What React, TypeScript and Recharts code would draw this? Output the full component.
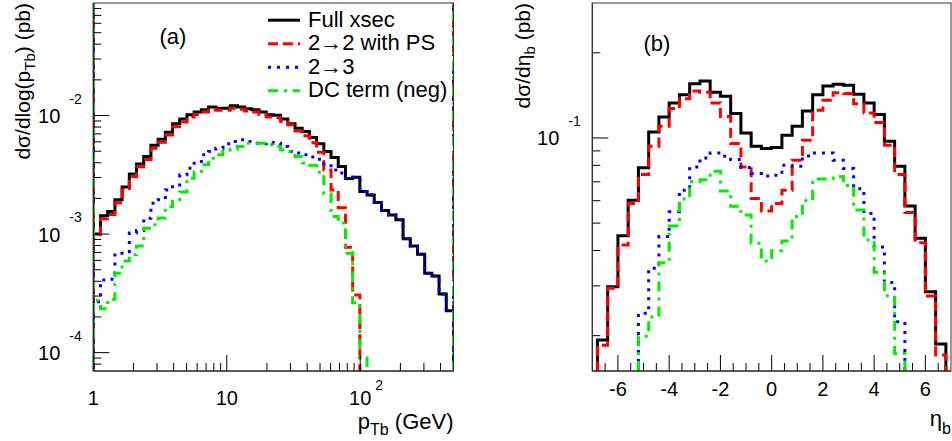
import { LineChart, Line, XAxis, YAxis } from 'recharts'

// ---- panel (a): d sigma / d log(pT), 50 log bins from 1 to 500 GeV ----
const PT_EDGES = [
  1, 1.132, 1.282, 1.452, 1.644, 1.862, 2.108, 2.387, 2.703, 3.061,
  3.466, 3.924, 4.444, 5.032, 5.698, 6.452, 7.306, 8.273, 9.368, 10.61,
  12.01, 13.6, 15.4, 17.44, 19.75, 22.36, 25.32, 28.67, 32.47, 36.76,
  41.63, 47.14, 53.38, 60.45, 68.45, 77.5, 87.76, 99.38, 112.5, 127.4,
  144.3, 163.4, 185, 209.5, 237.2, 268.6, 304.1, 344.4, 389.9, 441.5, 500,
]
const FULL_PT = [
  1.0e-3, 1.43e-3, 1.55e-3, 1.95e-3, 2.49e-3, 3.22e-3, 3.91e-3, 4.51e-3, 5.62e-3, 6.31e-3,
  7.24e-3, 8.51e-3, 9.33e-3, 1.014e-2, 1.069e-2, 1.117e-2, 1.178e-2, 1.153e-2, 1.153e-2, 1.208e-2,
  1.178e-2, 1.14e-2, 1.117e-2, 1.069e-2, 1.014e-2, 1.007e-2, 9.33e-3, 8.51e-3, 7.83e-3, 7.33e-3,
  6.52e-3, 5.77e-3, 4.97e-3, 4.43e-3, 3.72e-3, 2.95e-3, 3.02e-3, 2.29e-3, 2.14e-3, 1.85e-3,
  1.58e-3, 1.45e-3, 1.32e-3, 9.12e-4, 7.94e-4, 6.76e-4, 4.68e-4, 4.44e-4, 3.13e-4, 2.26e-4,
]
const PS22_PT = [
  9.9e-4, 1.35e-3, 1.46e-3, 1.84e-3, 2.35e-3, 3.04e-3, 3.69e-3, 4.26e-3, 5.31e-3, 5.96e-3,
  6.84e-3, 8.04e-3, 8.81e-3, 9.7e-3, 1.02e-2, 1.07e-2, 1.13e-2, 1.11e-2, 1.11e-2, 1.15e-2,
  1.13e-2, 1.09e-2, 1.07e-2, 1.02e-2, 9.7e-3, 9.6e-3, 8.9e-3, 8.36e-3, 7.41e-3, 6.76e-3,
  5.9e-3, 4.9e-3, 3.48e-3, 2.36e-3, 1.67e-3, 7.74e-4, 3.07e-4, 0, 0, 0,
  0, 0, 0, 0, 0, 0, 0, 0, 0, 0,
]
const R23_PT = [
  2.69e-4, 4.1e-4, 4.16e-4, 6.9e-4, 7.11e-4, 1.02e-3, 1.07e-3, 1.36e-3, 1.82e-3, 1.95e-3,
  2.36e-3, 2.6e-3, 3.16e-3, 3.6e-3, 4.09e-3, 4.66e-3, 4.97e-3, 5.31e-3, 5.77e-3, 6.04e-3,
  6.24e-3, 6.04e-3, 5.85e-3, 5.77e-3, 5.92e-3, 5.85e-3, 5.47e-3, 4.97e-3, 4.82e-3, 4.66e-3,
  4.47e-3, 4.27e-3, 3.89e-3, 3.47e-3, 3.27e-3, 2.95e-3, 3.02e-3, 2.29e-3, 2.14e-3, 1.85e-3,
  1.58e-3, 1.45e-3, 1.32e-3, 9.12e-4, 7.94e-4, 6.76e-4, 4.68e-4, 4.44e-4, 3.13e-4, 2.26e-4,
]
const DC_PT = [
  2.75e-4, 2.34e-4, 2.82e-4, 4.68e-4, 5.94e-4, 6.68e-4, 7.94e-4, 1.12e-3, 1.2e-3, 1.37e-3,
  1.7e-3, 1.95e-3, 2.27e-3, 2.96e-3, 3.37e-3, 3.84e-3, 4.37e-3, 4.68e-3, 4.97e-3, 5.2e-3,
  5.47e-3, 5.85e-3, 5.85e-3, 5.85e-3, 5.66e-3, 5.47e-3, 5.13e-3, 4.97e-3, 4.51e-3, 3.98e-3,
  3.81e-3, 3.33e-3, 2.19e-3, 1.41e-3, 1.24e-3, 6.9e-4, 2.64e-4, 9.0e-5, 0, 0,
  0, 0, 0, 0, 0, 0, 0, 0, 0, 0,
]

// ---- panel (b): d sigma / d eta, 34 bins from -6.8 to 6.8 ----
const ETA_EDGES = [
  -6.8, -6.4, -6.0, -5.6, -5.2, -4.8, -4.4, -4.0, -3.6, -3.2, -2.8, -2.4,
  -2.0, -1.6, -1.2, -0.8, -0.4, 0, 0.4, 0.8, 1.2, 1.6, 2.0, 2.4,
  2.8, 3.2, 3.6, 4.0, 4.4, 4.8, 5.2, 5.6, 6.0, 6.4, 6.8,
]
const FULL_ETA = [
  0.0193, 0.0298, 0.0451, 0.0602, 0.0784, 0.105, 0.1186, 0.133, 0.1422, 0.1555, 0.159, 0.1452,
  0.1403, 0.122, 0.1042, 0.0935, 0.0918, 0.0925, 0.1022, 0.11, 0.1245, 0.1422, 0.1527, 0.1548,
  0.1536, 0.1426, 0.133, 0.121, 0.0973, 0.0794, 0.0575, 0.0442, 0.0286, 0.0187,
]
const PS22_ETA = [
  0.0185, 0.0294, 0.0418, 0.0586, 0.0743, 0.0935, 0.11, 0.127, 0.1377, 0.1466, 0.1452, 0.133,
  0.119, 0.0955, 0.079, 0.0611, 0.0552, 0.0586, 0.0653, 0.0834, 0.0982, 0.1253, 0.1358, 0.1445,
  0.1435, 0.132, 0.1225, 0.1133, 0.0942, 0.0743, 0.0545, 0.0426, 0.0276, 0.0171,
]
const R23_ETA = [
  0, 0, 0, 0, 0.024, 0.0346, 0.0448, 0.0548, 0.0653, 0.079, 0.085, 0.0885,
  0.0862, 0.0839, 0.0786, 0.0748, 0.0733, 0.0738, 0.0801, 0.0794, 0.0863, 0.0885, 0.0885, 0.0834,
  0.078, 0.0662, 0.0541, 0.0412, 0.0308, 0.0224, 0, 0, 0, 0,
]
const DC_ETA = [
  0, 0, 0, 0, 0.0199, 0.0233, 0.0362, 0.0488, 0.0608, 0.0701, 0.0712, 0.0763,
  0.0649, 0.0574, 0.0534, 0.0424, 0.0367, 0.0399, 0.0432, 0.0528, 0.06, 0.0716, 0.0716, 0.0731,
  0.0679, 0.0556, 0.0436, 0.0335, 0.0277, 0.0173, 0, 0, 0, 0,
]

// ---- axes ----
const PT_DOMAIN = [1, 500]
const XSEC_PT_DOMAIN = [7e-5, 0.089]
const PT_TICKS = [1, 2, 3, 4, 5, 6, 7, 8, 9, 10, 20, 30, 40, 50, 60, 70, 80, 90, 100, 200, 300, 400]
const XSEC_PT_TICKS = [
  8e-5, 9e-5, 1e-4, 2e-4, 3e-4, 4e-4, 5e-4, 6e-4, 7e-4, 8e-4, 9e-4,
  1e-3, 2e-3, 3e-3, 4e-3, 5e-3, 6e-3, 7e-3, 8e-3, 9e-3, 1e-2, 2e-2, 3e-2, 4e-2, 5e-2, 6e-2, 7e-2, 8e-2,
]
const ETA_DOMAIN = [-7, 7]
const XSEC_ETA_DOMAIN = [0.015, 0.3]
const ETA_TICKS = [
  -6.5, -6, -5.5, -5, -4.5, -4, -3.5, -3, -2.5, -2, -1.5, -1, -0.5, 0,
  0.5, 1, 1.5, 2, 2.5, 3, 3.5, 4, 4.5, 5, 5.5, 6, 6.5,
]
const ETA_LABELS = [-6, -4, -2, 0, 2, 4, 6]
const XSEC_ETA_TICKS = [0.02, 0.03, 0.04, 0.05, 0.06, 0.07, 0.08, 0.09, 0.1, 0.2]

const SERIES = [
  { name: 'Full xsec', color: '#000000', dash: undefined as string | undefined },
  { name: '2\u21922 with PS', color: '#ff0000', dash: '10 5' },
  { name: '2\u21923', color: '#0000ff', dash: '3 6' },
  { name: 'DC term (neg)', color: '#00ee00', dash: '10 6 3 6' },
]

const W = 952
const H = 441
const FONT = '"Liberation Sans", Arial, Helvetica, sans-serif'
const PLOT_A = { left: 93.3, right: 453.5, top: 3, bottom: 371 }
const PLOT_B = { left: 592.3, right: 951, top: 3, bottom: 371 }
const YAXIS_W = 60
const XAXIS_H = 40

type Pt = { x: number; y: number | null }

// histogram outline; empty bins drop to the axis floor and break the line
function stepPoints(edges: number[], vals: number[], floor: number): Pt[] {
  const pts: Pt[] = []
  let prev = 0
  vals.forEach((v, i) => {
    const lo = edges[i]
    const hi = edges[i + 1]
    if (v > 0) {
      if (prev <= 0) pts.push({ x: lo, y: floor })
      pts.push({ x: lo, y: v }, { x: hi, y: v })
    } else if (prev > 0) {
      pts.push({ x: lo, y: floor }, { x: lo, y: null })
    }
    prev = v
  })
  if (prev > 0) pts.push({ x: edges[edges.length - 1], y: floor })
  return pts
}

const isDecade = (v: number) => {
  const l = Math.log10(v)
  return Math.abs(l - Math.round(l)) < 1e-9
}

const txt = { fontFamily: FONT, fill: '#000' }

const makeLogYTick = (axisX: number) => (props: any) => {
  const y = props.y
  const v = props.payload.value
  const major = isDecade(v)
  const e = Math.round(Math.log10(v))
  return (
    <g>
      <line x1={axisX} x2={axisX + (major ? 16 : 8)} y1={y} y2={y} stroke="#000" />
      {major && (
        <>
          <text x={axisX - 33} y={y + 7.5} textAnchor="end" fontSize={20} {...txt}>10</text>
          <text x={axisX - 24} y={y - 12} fontSize={14} {...txt}>{String(e)}</text>
        </>
      )}
    </g>
  )
}

const PtTick = (props: any) => {
  const x = props.x
  const v = props.payload.value
  const major = isDecade(v)
  const e = Math.round(Math.log10(v))
  const yb = PLOT_A.bottom
  return (
    <g>
      <line x1={x} x2={x} y1={yb} y2={yb - (major ? 16 : 8)} stroke="#000" />
      {major && e < 2 && (
        <text x={x} y={yb + 34} textAnchor="middle" fontSize={20} {...txt}>{String(v)}</text>
      )}
      {major && e >= 2 && (
        <>
          <text x={x} y={yb + 34} textAnchor="middle" fontSize={20} {...txt}>10</text>
          <text x={x + 15} y={yb + 19} fontSize={14} {...txt}>{String(e)}</text>
        </>
      )}
    </g>
  )
}

const EtaTick = (props: any) => {
  const x = props.x
  const v = props.payload.value
  const major = ETA_LABELS.includes(v)
  const yb = PLOT_B.bottom
  return (
    <g>
      <line x1={x} x2={x} y1={yb} y2={yb - (major ? 16 : 8)} stroke="#000" />
      {major && (
        <text x={x} y={yb + 25} textAnchor="middle" fontSize={20} {...txt}>{String(v)}</text>
      )}
    </g>
  )
}

export default function App() {
  const ptSets = [FULL_PT, PS22_PT, R23_PT, DC_PT]
  const etaSets = [FULL_ETA, PS22_ETA, R23_ETA, DC_ETA]
  const [yMinA, yMaxA] = XSEC_PT_DOMAIN
  const [yMinB] = XSEC_ETA_DOMAIN

  const ptData = ptSets.map((vals, i) => [
    { x: PT_DOMAIN[0], y: yMaxA },
    ...stepPoints(PT_EDGES, vals, yMinA),
    ...(i > 0
      ? [{ x: PT_DOMAIN[1], y: null }, { x: PT_DOMAIN[1], y: yMinA }, { x: PT_DOMAIN[1], y: yMaxA }]
      : []),
  ])
  const etaData = etaSets.map(vals => stepPoints(ETA_EDGES, vals, yMinB))

  const chartStyle = { position: 'absolute' as const, left: 0, top: 0 }

  return (
    <div style={{ position: 'absolute', left: 0, top: 0, width: W, height: H, background: '#fff' }}>
      {/* (a) pT */}
      <div style={chartStyle}>
        <LineChart
          width={W} height={H}
          margin={{ top: PLOT_A.top, right: W - PLOT_A.right, bottom: H - PLOT_A.bottom - XAXIS_H, left: PLOT_A.left - YAXIS_W }}
        >
          <XAxis
            dataKey="x" type="number" scale="log" domain={PT_DOMAIN} allowDataOverflow
            ticks={PT_TICKS} interval={0} tick={PtTick} tickLine={false}
            axisLine={{ stroke: '#000' }} height={XAXIS_H}
          />
          <YAxis
            type="number" scale="log" domain={XSEC_PT_DOMAIN} allowDataOverflow
            ticks={XSEC_PT_TICKS} interval={0} tick={makeLogYTick(PLOT_A.left)} tickLine={false}
            axisLine={{ stroke: '#000' }} width={YAXIS_W}
          />
          {SERIES.map((s, i) => (
            <Line
              key={s.name} data={ptData[i]} dataKey="y" type="linear" dot={false} activeDot={false}
              stroke={s.color} strokeWidth={3} strokeDasharray={s.dash} strokeLinejoin="miter"
              isAnimationActive={false} connectNulls={false}
            />
          ))}
        </LineChart>
      </div>

      {/* (b) eta */}
      <div style={chartStyle}>
        <LineChart
          width={W} height={H}
          margin={{ top: PLOT_B.top, right: W - PLOT_B.right, bottom: H - PLOT_B.bottom - XAXIS_H, left: PLOT_B.left - YAXIS_W }}
        >
          <XAxis
            dataKey="x" type="number" domain={ETA_DOMAIN} allowDataOverflow
            ticks={ETA_TICKS} interval={0} tick={EtaTick} tickLine={false}
            axisLine={{ stroke: '#000' }} height={XAXIS_H}
          />
          <YAxis
            type="number" scale="log" domain={XSEC_ETA_DOMAIN} allowDataOverflow
            ticks={XSEC_ETA_TICKS} interval={0} tick={makeLogYTick(PLOT_B.left)} tickLine={false}
            axisLine={{ stroke: '#000' }} width={YAXIS_W}
          />
          {SERIES.map((s, i) => (
            <Line
              key={s.name} data={etaData[i]} dataKey="y" type="linear" dot={false} activeDot={false}
              stroke={s.color} strokeWidth={3} strokeDasharray={s.dash} strokeLinejoin="miter"
              isAnimationActive={false} connectNulls={false}
            />
          ))}
        </LineChart>
      </div>

      {/* frames, titles, legend */}
      <svg width={W} height={H} style={{ position: 'absolute', left: 0, top: 0, pointerEvents: 'none' }}>
        {[PLOT_A, PLOT_B].map((p, i) => (
          <rect key={i} x={p.left} y={p.top} width={p.right - p.left} height={p.bottom - p.top} fill="none" stroke="#333" strokeWidth={1} />
        ))}

        <text x={173} y={44} textAnchor="middle" fontSize={22} {...txt}>(a)</text>
        <text x={657} y={51} textAnchor="middle" fontSize={22} {...txt}>(b)</text>

        <text transform="translate(30,3) rotate(-90)" textAnchor="end" fontSize={21} {...txt}>
          <tspan>d{'\u03c3'}/dlog(p</tspan>
          <tspan fontSize={15} dy={5}>Tb</tspan>
          <tspan dy={-5}>) (pb)</tspan>
        </text>
        <text transform="translate(530,3) rotate(-90)" textAnchor="end" fontSize={21} {...txt}>
          <tspan>d{'\u03c3'}/d{'\u03b7'}</tspan>
          <tspan fontSize={15} dy={5}>b</tspan>
          <tspan dy={-5}> (pb)</tspan>
        </text>

        <text x={PLOT_A.right} y={429} textAnchor="end" fontSize={22} {...txt}>
          <tspan>p</tspan>
          <tspan fontSize={16} dy={6}>Tb</tspan>
          <tspan dy={-6}> (GeV)</tspan>
        </text>
        <text x={PLOT_B.right} y={426} textAnchor="end" fontSize={22} {...txt}>
          <tspan>{'\u03b7'}</tspan>
          <tspan fontSize={16} dy={8}>b</tspan>
        </text>

        {SERIES.map((s, i) => {
          const base = 26.7 + i * 23.5
          return (
            <g key={s.name}>
              <line x1={268} x2={300} y1={base - 6.5} y2={base - 6.5} stroke={s.color} strokeWidth={3} strokeDasharray={s.dash} />
              <text x={308} y={base} fontSize={22} {...txt}>{s.name}</text>
            </g>
          )
        })}
      </svg>
    </div>
  )
}
